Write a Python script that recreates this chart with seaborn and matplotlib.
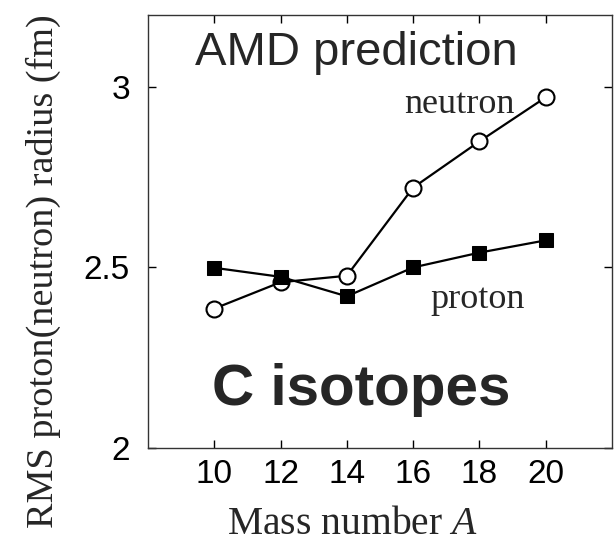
import matplotlib
matplotlib.use("Agg")
import matplotlib.pyplot as plt
import seaborn as sns
import pandas as pd

# Mass numbers of the carbon isotopes and their RMS radii (fm)
mass_number = [10, 12, 14, 16, 18, 20]
neutron_radius = [2.386, 2.459, 2.477, 2.721, 2.849, 2.971]
proton_radius = [2.499, 2.474, 2.420, 2.500, 2.541, 2.575]
x_ticks = [10, 12, 14, 16, 18, 20]
y_ticks = [2, 2.5, 3]
y_tick_labels = ["2", "2.5", "3"]

df = pd.concat([
    pd.DataFrame({"A": mass_number, "radius": neutron_radius, "kind": "neutron"}),
    pd.DataFrame({"A": mass_number, "radius": proton_radius, "kind": "proton"}),
])

sns.set_style("ticks")
plt.rcParams["font.family"] = ["Liberation Sans", "DejaVu Sans"]
plt.rcParams["mathtext.fontset"] = "custom"
plt.rcParams["mathtext.it"] = "Liberation Serif:italic"
plt.rcParams["mathtext.rm"] = "Liberation Serif"

fig = plt.figure(figsize=(6.15, 5.44), dpi=100)
ax = fig.add_axes([0.2407, 0.1765, 0.7543, 0.7965])

sns.lineplot(data=df[df.kind == "neutron"], x="A", y="radius", ax=ax,
             color="black", lw=1.6, marker="o", markersize=11.5,
             markerfacecolor="white", markeredgecolor="black",
             markeredgewidth=1.5, zorder=3)
sns.lineplot(data=df[df.kind == "proton"], x="A", y="radius", ax=ax,
             color="black", lw=1.6, marker="s", markersize=10.5,
             markerfacecolor="black", markeredgecolor="black", zorder=4)

ax.set_xlim(8, 22)
ax.set_ylim(2, 3.2)
ax.set_xticks(x_ticks)
ax.set_yticks(y_ticks)
ax.set_yticklabels(y_tick_labels)
ax.tick_params(direction="in", length=6, width=1, top=True, right=True,
               labelsize=24, colors="black")
ax.tick_params(axis="x", pad=8)
ax.tick_params(axis="y", pad=13)
for s in ax.spines.values():
    s.set_linewidth(1.0)
    s.set_color("#333333")

ax.set_xlabel("Mass number $\\mathit{A}$", family="Liberation Serif",
              fontsize=28.5)
ax.xaxis.label.set_va("baseline")
ax.xaxis.set_label_coords(0.4397, -0.1985)
ax.set_ylabel("RMS proton(neutron) radius (fm)", family="Liberation Serif",
              fontsize=27.5)
ax.yaxis.label.set_va("baseline")
ax.yaxis.set_label_coords(-0.2047, 0.407)

ax.text(14.3, 3.060, "AMD prediction", fontsize=34, ha="center",
        va="baseline")
ax.text(14.43, 2.119, "C isotopes", fontsize=42, ha="center",
        va="baseline", fontweight="bold")
ax.text(17.38, 2.927, "neutron", family="Liberation Serif", fontsize=26,
        ha="center", va="baseline")
ax.text(17.96, 2.387, "proton", family="Liberation Serif", fontsize=26,
        ha="center", va="baseline")

fig.savefig("out.png", dpi=100)
